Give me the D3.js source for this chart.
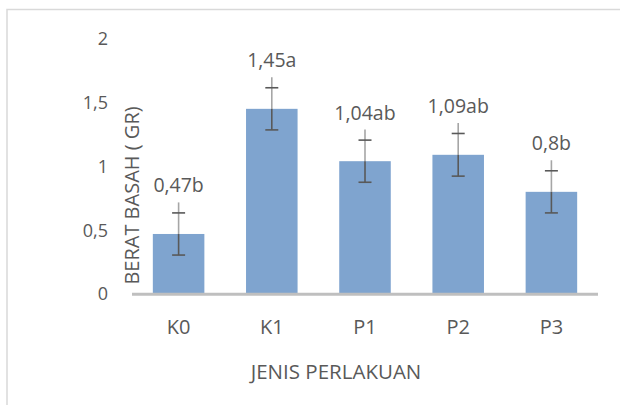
<!DOCTYPE html>
<html>
<head>
<meta charset="utf-8">
<script src="https://cdn.jsdelivr.net/npm/d3@7"></script>
<style>
  html, body { margin: 0; padding: 0; background: #fff; }
  svg { display: block; }
  text { font-family: "Open Sans", sans-serif; fill: #595959; }
</style>
</head>
<body>
<svg id="chart" width="620" height="405"></svg>
<script>
const categories = ["K0", "K1", "P1", "P2", "P3"];
const values = [0.47, 1.45, 1.04, 1.09, 0.80];
const errors = [0.165, 0.165, 0.165, 0.167, 0.165];
const letters = ["b", "a", "ab", "ab", "b"];
const yTicks = [0, 0.5, 1, 1.5, 2];
const yTitle = "BERAT BASAH ( GR)";
const xTitle = "JENIS PERLAKUAN";

const fmt = v => String(+v.toFixed(2)).replace(".", ",");

const svg = d3.select("#chart");

// outer frame
svg.append("rect")
  .attr("x", 7).attr("y", 9.5)
  .attr("width", 640).attr("height", 420)
  .attr("fill", "none").attr("stroke", "#d9d9d9").attr("stroke-width", 1.5);

const x = d3.scaleBand().domain(categories).range([132, 598]).paddingInner(0.447).paddingOuter(0.2235);
const y = d3.scaleLinear().domain([0, 2]).range([294, 38.6]);

// bars
svg.selectAll("rect.bar").data(categories).enter().append("rect")
  .attr("class", "bar")
  .attr("x", d => x(d))
  .attr("width", x.bandwidth())
  .attr("y", (d, i) => y(values[i]))
  .attr("height", (d, i) => y(0) - y(values[i]))
  .attr("fill", "#7fa4cf");

// x axis line
svg.append("line")
  .attr("x1", x.range()[0]).attr("x2", x.range()[1])
  .attr("y1", y(0) + 0.3).attr("y2", y(0) + 0.3)
  .attr("stroke", "#bfbfbf").attr("stroke-width", 3);

// y tick labels
svg.selectAll("text.ytick").data(yTicks).enter().append("text")
  .attr("class", "ytick")
  .attr("x", 108)
  .attr("y", d => y(d))
  .attr("dy", "0.36em")
  .attr("text-anchor", "end")
  .style("font-size", "18px")
  .text(d => fmt(d));

// x tick labels
svg.selectAll("text.xtick").data(categories).enter().append("text")
  .attr("class", "xtick")
  .attr("x", d => x(d) + x.bandwidth() / 2)
  .attr("y", 333.5)
  .attr("text-anchor", "middle")
  .style("font-size", "20px")
  .text(d => d);

// error bars
const g = svg.append("g");
categories.forEach((c, i) => {
  const cx = x(c) + x.bandwidth() / 2;
  const top = y(values[i] + errors[i]);
  const bot = y(values[i] - errors[i]);
  const barTop = y(values[i]);
  g.append("line").attr("x1", cx).attr("x2", cx)
    .attr("y1", top - 10.5).attr("y2", barTop)
    .attr("stroke", "#a6a6a6").attr("stroke-width", 1.6);
  g.append("line").attr("x1", cx).attr("x2", cx)
    .attr("y1", barTop).attr("y2", bot)
    .attr("stroke", "#595959").attr("stroke-width", 1.6);
  [top, bot].forEach(yy => {
    g.append("line").attr("x1", cx - 6.5).attr("x2", cx + 6.5)
      .attr("y1", yy).attr("y2", yy)
      .attr("stroke", "#595959").attr("stroke-width", 1.6);
  });
  // data label
  svg.append("text")
    .attr("x", cx)
    .attr("y", top - 20.5)
    .attr("text-anchor", "middle")
    .style("font-size", "19.5px")
    .text(fmt(values[i]) + letters[i]);
});

// y axis title
svg.append("text")
  .attr("transform", `translate(139, ${195.5}) rotate(-90)`)
  .attr("text-anchor", "middle")
  .style("font-size", "20px")
  .text(yTitle);

// x axis title
svg.append("text")
  .attr("x", 336)
  .attr("y", 378.5)
  .attr("text-anchor", "middle")
  .style("font-size", "20.5px")
  .text(xTitle);
</script>
</body>
</html>
